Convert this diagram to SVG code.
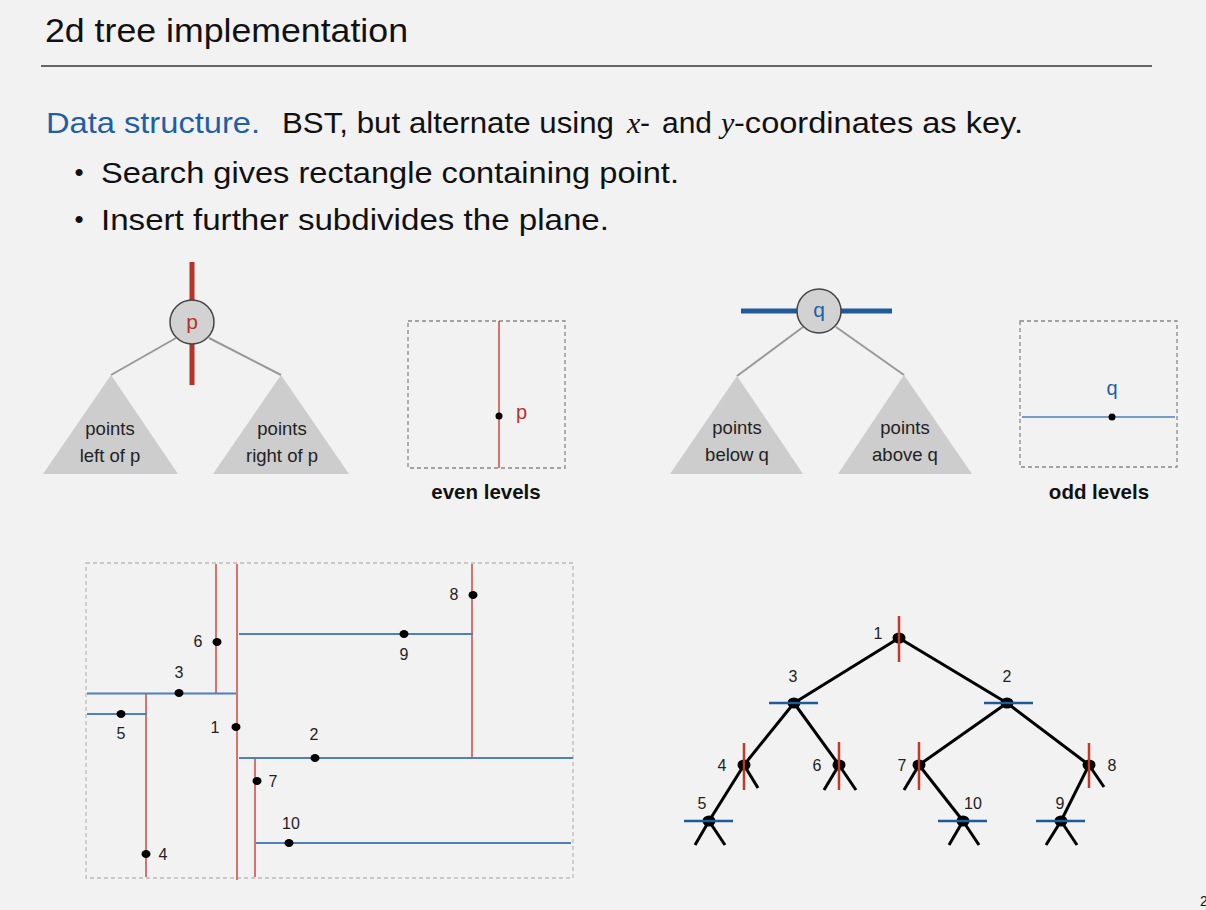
<svg xmlns="http://www.w3.org/2000/svg" width="1206" height="910" viewBox="0 0 1206 910">
<style>
text{font-family:"Liberation Sans",Arial,sans-serif;fill:#111}
.body{font-size:30px}
.it{font-family:"Liberation Serif","Times New Roman",serif;font-style:italic}
.tri{fill:#cdcdcd}
.trit{font-size:18.5px;text-anchor:middle;fill:#222}
.gl{stroke:#999;stroke-width:2;fill:none}
.nc{fill:#d2d2d2;stroke:#444;stroke-width:1.5}
.box{fill:none;stroke:#888;stroke-width:1.3;stroke-dasharray:4 3}
.lvl{font-size:20.5px;font-weight:bold;text-anchor:middle}
.pr{stroke:#d6504a;stroke-width:1.6}
.pb{stroke:#4f7fbd;stroke-width:2}
.dot{fill:#000}
.num{font-size:16px;text-anchor:middle;fill:#222}
.edge{stroke:#000;stroke-width:3;fill:none}
.tr{stroke:#c0392b;stroke-width:2.5}
.tb{stroke:#1f5a9a;stroke-width:2.5}
</style>
<rect width="1206" height="910" fill="#f2f2f2"/>
<g id="header">
<text x="45" y="42" font-size="34" textLength="363" lengthAdjust="spacingAndGlyphs">2d tree implementation</text>
<line x1="41" y1="66" x2="1152" y2="66" stroke="#666" stroke-width="2"/>
<text class="body" x="46" y="133" style="fill:#1f5fa6" textLength="214" lengthAdjust="spacingAndGlyphs">Data structure.</text>
<text class="body" x="282" y="133" textLength="332" lengthAdjust="spacingAndGlyphs">BST, but alternate using</text>
<text class="body it" x="627" y="133">x</text>
<text class="body" x="640" y="133">-</text>
<text class="body" x="662" y="133" textLength="50" lengthAdjust="spacingAndGlyphs">and</text>
<text class="body it" x="721" y="133">y</text>
<text class="body" x="734" y="133" textLength="289" lengthAdjust="spacingAndGlyphs">-coordinates as key.</text>
<text x="79" y="181" font-size="26" text-anchor="middle">•</text>
<text class="body" x="101" y="183" textLength="578" lengthAdjust="spacingAndGlyphs">Search gives rectangle containing point.</text>
<text x="79" y="228" font-size="26" text-anchor="middle">•</text>
<text class="body" x="101" y="230" textLength="508" lengthAdjust="spacingAndGlyphs">Insert further subdivides the plane.</text>
</g>
<g id="p-tree">
<line x1="176" y1="338" x2="111" y2="375" class="gl"/>
<line x1="209" y1="338" x2="281" y2="375" class="gl"/>
<polygon class="tri" points="111,375 43,474 178,474"/>
<polygon class="tri" points="281,375 213,474 349,474"/>
<line x1="192" y1="262" x2="192" y2="385" stroke="#b5332b" stroke-width="5"/>
<circle class="nc" cx="192" cy="322" r="22"/>
<text x="192" y="329" font-size="21" text-anchor="middle" style="fill:#b5332b">p</text>
<text class="trit" x="110" y="435">points</text>
<text class="trit" x="110" y="462">left of p</text>
<text class="trit" x="282" y="435">points</text>
<text class="trit" x="282" y="462">right of p</text>
</g>
<g id="even-levels">
<rect class="box" x="408" y="321" width="157" height="147"/>
<line x1="499" y1="321" x2="499" y2="468" class="pr"/>
<circle cx="499" cy="416" r="3.5" class="dot"/>
<text x="516" y="419" font-size="20" style="fill:#b5332b">p</text>
<text class="lvl" x="486" y="499">even levels</text>
</g>
<g id="q-tree">
<line x1="803" y1="327" x2="737" y2="376" class="gl"/>
<line x1="836" y1="327" x2="904" y2="375" class="gl"/>
<polygon class="tri" points="737,376 670,474 803,474"/>
<polygon class="tri" points="904,375 838,474 972,474"/>
<line x1="741" y1="311" x2="892" y2="311" stroke="#1f5a9a" stroke-width="5"/>
<circle class="nc" cx="819" cy="311" r="22"/>
<text x="819" y="317" font-size="21" text-anchor="middle" style="fill:#1f5fa6">q</text>
<text class="trit" x="737" y="434">points</text>
<text class="trit" x="737" y="461">below q</text>
<text class="trit" x="905" y="434">points</text>
<text class="trit" x="905" y="461">above q</text>
</g>
<g id="odd-levels">
<rect class="box" x="1020" y="321" width="157" height="146"/>
<line x1="1022" y1="417" x2="1175" y2="417" class="pb" style="stroke-width:1.6"/>
<circle cx="1112" cy="417" r="3.5" class="dot"/>
<text x="1112" y="395" font-size="20" text-anchor="middle" style="fill:#1f5fa6">q</text>
<text class="lvl" x="1099" y="499">odd levels</text>
</g>
<g id="plane">
<rect x="86" y="563" width="487" height="315" fill="none" stroke="#bbb" stroke-width="1.3" stroke-dasharray="4 3"/>
<g id="plane-lines">
<line class="pr" x1="216" y1="564" x2="216" y2="693"/>
<line class="pr" x1="237" y1="564" x2="237" y2="880"/>
<line class="pr" x1="472" y1="564" x2="472" y2="758"/>
<line class="pr" x1="146" y1="694" x2="146" y2="877"/>
<line class="pr" x1="255" y1="758" x2="255" y2="877"/>
<line class="pb" x1="239" y1="634" x2="473" y2="634"/>
<line class="pb" x1="87" y1="693.5" x2="236" y2="693.5"/>
<line class="pb" x1="87" y1="714" x2="147" y2="714"/>
<line class="pb" x1="239" y1="758" x2="573" y2="758"/>
<line class="pb" x1="256" y1="843" x2="571" y2="843"/>
</g>
<g id="pt1"><ellipse class="dot" cx="236" cy="727" rx="4.5" ry="4"/><text class="num" x="215" y="733">1</text></g>
<g id="pt2"><ellipse class="dot" cx="315" cy="758" rx="4.5" ry="4"/><text class="num" x="314" y="740">2</text></g>
<g id="pt3"><ellipse class="dot" cx="179" cy="693" rx="4.5" ry="4"/><text class="num" x="179" y="678">3</text></g>
<g id="pt4"><ellipse class="dot" cx="146" cy="854" rx="4.5" ry="4"/><text class="num" x="163" y="860">4</text></g>
<g id="pt5"><ellipse class="dot" cx="121" cy="714" rx="4.5" ry="4"/><text class="num" x="121" y="739">5</text></g>
<g id="pt6"><ellipse class="dot" cx="217" cy="642" rx="4.5" ry="4"/><text class="num" x="198" y="647">6</text></g>
<g id="pt7"><ellipse class="dot" cx="257" cy="781" rx="4.5" ry="4"/><text class="num" x="273" y="787">7</text></g>
<g id="pt8"><ellipse class="dot" cx="473" cy="595" rx="4.5" ry="4"/><text class="num" x="454" y="600">8</text></g>
<g id="pt9"><ellipse class="dot" cx="404" cy="634" rx="4.5" ry="4"/><text class="num" x="404" y="660">9</text></g>
<g id="pt10"><ellipse class="dot" cx="289" cy="843" rx="4.5" ry="4"/><text class="num" x="291" y="829">10</text></g>
</g>
<g id="tree-edges">
<line class="edge" x1="899" y1="638" x2="794" y2="703"/>
<line class="edge" x1="899" y1="638" x2="1007" y2="703"/>
<line class="edge" x1="794" y1="703" x2="744" y2="765"/>
<line class="edge" x1="794" y1="703" x2="839" y2="765"/>
<line class="edge" x1="1007" y1="703" x2="919" y2="765"/>
<line class="edge" x1="1007" y1="703" x2="1089" y2="765"/>
<line class="edge" x1="744" y1="765" x2="709" y2="821"/>
<line class="edge" x1="919" y1="765" x2="963" y2="821"/>
<line class="edge" x1="1089" y1="765" x2="1061" y2="821"/>
<line class="edge" x1="744" y1="765" x2="758" y2="788"/>
<line class="edge" x1="839" y1="765" x2="824" y2="790"/>
<line class="edge" x1="839" y1="765" x2="856" y2="790"/>
<line class="edge" x1="919" y1="765" x2="904" y2="790"/>
<line class="edge" x1="1089" y1="765" x2="1104" y2="787"/>
<line class="edge" x1="709" y1="821" x2="695" y2="845"/>
<line class="edge" x1="709" y1="821" x2="725" y2="845"/>
<line class="edge" x1="963" y1="821" x2="949" y2="845"/>
<line class="edge" x1="963" y1="821" x2="979" y2="845"/>
<line class="edge" x1="1061" y1="821" x2="1046" y2="845"/>
<line class="edge" x1="1061" y1="821" x2="1077" y2="845"/>
</g>
<g id="tn1"><ellipse class="dot" cx="899" cy="638" rx="6.5" ry="5.5"/><line class="tr" x1="899" y1="616" x2="899" y2="662"/><text class="num" x="878" y="639">1</text></g>
<g id="tn3"><ellipse class="dot" cx="794" cy="703" rx="6.5" ry="5.5"/><line class="tb" x1="769" y1="703" x2="818" y2="703"/><text class="num" x="793" y="682">3</text></g>
<g id="tn2"><ellipse class="dot" cx="1007" cy="703" rx="6.5" ry="5.5"/><line class="tb" x1="984" y1="703" x2="1033" y2="703"/><text class="num" x="1007" y="682">2</text></g>
<g id="tn4"><ellipse class="dot" cx="744" cy="765" rx="6.5" ry="5.5"/><line class="tr" x1="744" y1="743" x2="744" y2="790"/><text class="num" x="722" y="771">4</text></g>
<g id="tn6"><ellipse class="dot" cx="839" cy="765" rx="6.5" ry="5.5"/><line class="tr" x1="839" y1="742" x2="839" y2="790"/><text class="num" x="817" y="771">6</text></g>
<g id="tn7"><ellipse class="dot" cx="919" cy="765" rx="6.5" ry="5.5"/><line class="tr" x1="919" y1="742" x2="919" y2="790"/><text class="num" x="902" y="771">7</text></g>
<g id="tn8"><ellipse class="dot" cx="1089" cy="765" rx="6.5" ry="5.5"/><line class="tr" x1="1089" y1="743" x2="1089" y2="788"/><text class="num" x="1112" y="771">8</text></g>
<g id="tn5"><ellipse class="dot" cx="709" cy="821" rx="6.5" ry="5.5"/><line class="tb" x1="684" y1="821" x2="733" y2="821"/><text class="num" x="702" y="809">5</text></g>
<g id="tn10"><ellipse class="dot" cx="963" cy="821" rx="6.5" ry="5.5"/><line class="tb" x1="938" y1="821" x2="987" y2="821"/><text class="num" x="973" y="809">10</text></g>
<g id="tn9"><ellipse class="dot" cx="1061" cy="821" rx="6.5" ry="5.5"/><line class="tb" x1="1036" y1="821" x2="1085" y2="821"/><text class="num" x="1060" y="809">9</text></g>
<text x="1200" y="906" font-size="14" fill="#222">2</text>
</svg>
